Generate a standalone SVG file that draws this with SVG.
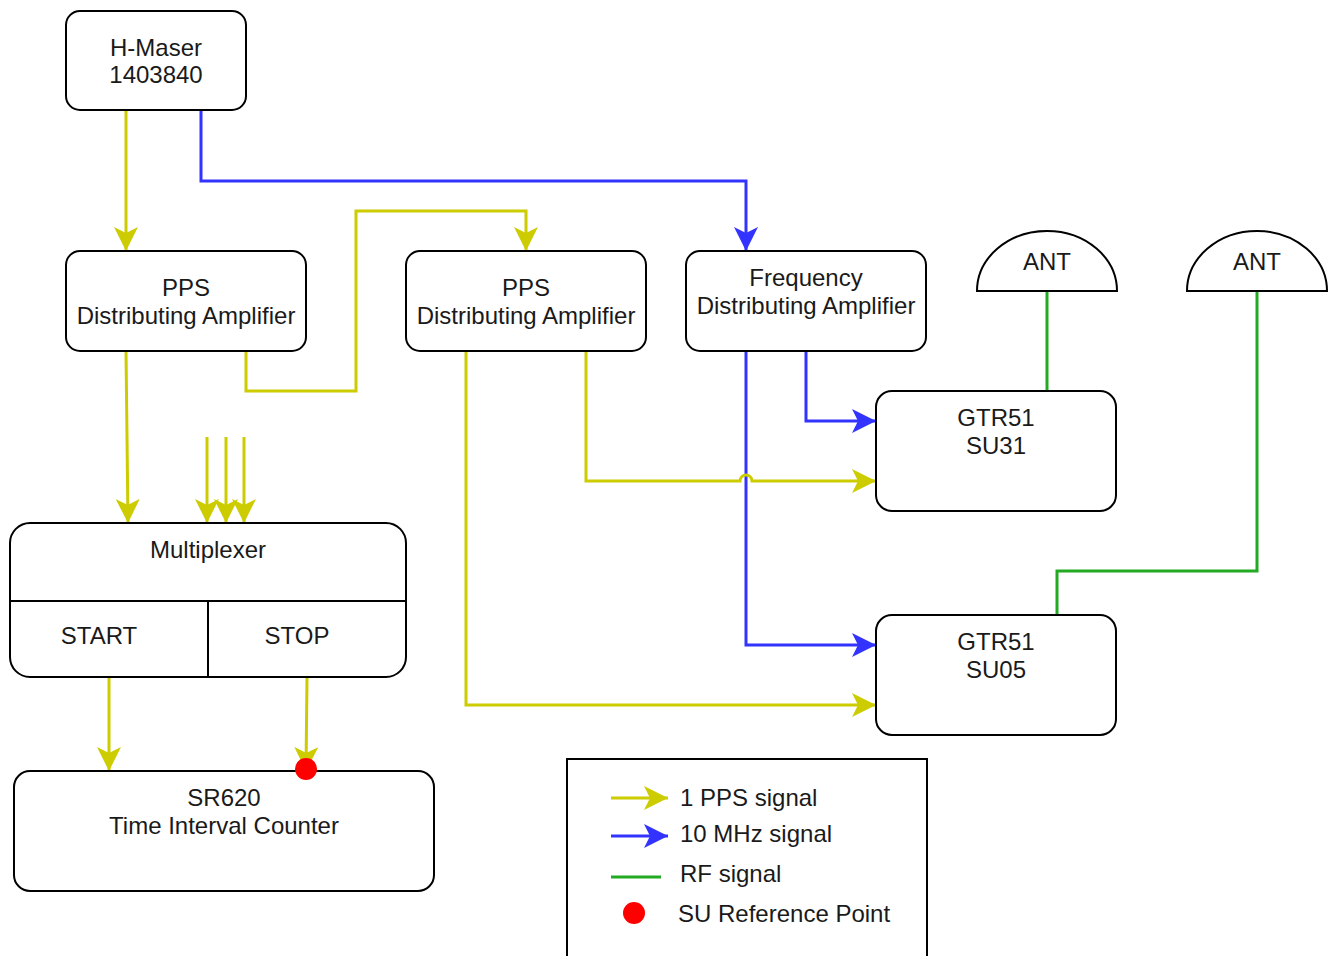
<svg xmlns="http://www.w3.org/2000/svg" width="1336" height="956" viewBox="0 0 1336 956">
<style>
.box{fill:#fff;stroke:#000;stroke-width:2}
.t{font-family:"Liberation Sans",Arial,sans-serif;font-size:24px;fill:#1a1a1a;text-anchor:middle}
.tl{font-family:"Liberation Sans",Arial,sans-serif;font-size:24px;fill:#1a1a1a}
.y{fill:none;stroke:#CCCC00;stroke-width:3}
.b{fill:none;stroke:#3333FF;stroke-width:3}
.g{fill:none;stroke:#22AA22;stroke-width:3}
</style>
<defs>
<marker id="ay" markerUnits="userSpaceOnUse" markerWidth="26" markerHeight="24" refX="24" refY="12" orient="auto" viewBox="0 0 26 24">
<path d="M24,12 L0,0 L6,12 L0,24 Z" fill="#CCCC00"/>
</marker>
<marker id="ab" markerUnits="userSpaceOnUse" markerWidth="26" markerHeight="24" refX="24" refY="12" orient="auto" viewBox="0 0 26 24">
<path d="M24,12 L0,0 L6,12 L0,24 Z" fill="#3333FF"/>
</marker>
</defs>
<rect width="1336" height="956" fill="#fff"/>

<g id="connectors">
<path class="y" d="M126,110 L126,251" marker-end="url(#ay)"/>
<path class="b" d="M201,110 L201,181 L746,181 L746,251" marker-end="url(#ab)"/>
<path class="y" d="M246,351 L246,391 L356,391 L356,211 L526,211 L526,251" marker-end="url(#ay)"/>
<path class="y" d="M126,351 L128,523" marker-end="url(#ay)"/>
<path class="y" d="M207,437 L207,523" marker-end="url(#ay)"/>
<path class="y" d="M226,437 L226,523" marker-end="url(#ay)"/>
<path class="y" d="M244,437 L244,523" marker-end="url(#ay)"/>
<path class="b" d="M806,351 L806,421 L876,421" marker-end="url(#ab)"/>
<path class="b" d="M746,351 L746,645 L876,645" marker-end="url(#ab)"/>
<path class="y" d="M586,351 L586,481 L740,481 A6,6 0 0 1 752,481 L876,481" marker-end="url(#ay)"/>
<path class="y" d="M466,351 L466,705 L876,705" marker-end="url(#ay)"/>
<path class="g" d="M1047,291 L1047,391"/>
<path class="g" d="M1257,291 L1257,571 L1057,571 L1057,615"/>
<path class="y" d="M109,677 L109,771" marker-end="url(#ay)"/>
<path class="y" d="M307,677 L306,771" marker-end="url(#ay)"/>
</g>

<g id="hmaser">
<rect class="box" x="66" y="11" width="180" height="99" rx="14"/>
<text class="t" x="156" y="56">H-Maser</text>
<text class="t" x="156" y="83">1403840</text>
</g>
<g id="pps1">
<rect class="box" x="66" y="251" width="240" height="100" rx="14"/>
<text class="t" x="186" y="296">PPS</text>
<text class="t" x="186" y="324">Distributing Amplifier</text>
</g>
<g id="pps2">
<rect class="box" x="406" y="251" width="240" height="100" rx="14"/>
<text class="t" x="526" y="296">PPS</text>
<text class="t" x="526" y="324">Distributing Amplifier</text>
</g>
<g id="freq">
<rect class="box" x="686" y="251" width="240" height="100" rx="14"/>
<text class="t" x="806" y="286">Frequency</text>
<text class="t" x="806" y="314">Distributing Amplifier</text>
</g>
<g id="ant1">
<path class="box" d="M977,291 A70,60 0 0 1 1117,291 Z"/>
<text class="t" x="1047" y="270">ANT</text>
</g>
<g id="ant2">
<path class="box" d="M1187,291 A70,60 0 0 1 1327,291 Z"/>
<text class="t" x="1257" y="270">ANT</text>
</g>
<g id="su31">
<rect class="box" x="876" y="391" width="240" height="120" rx="16"/>
<text class="t" x="996" y="426">GTR51</text>
<text class="t" x="996" y="454">SU31</text>
</g>
<g id="su05">
<rect class="box" x="876" y="615" width="240" height="120" rx="16"/>
<text class="t" x="996" y="650">GTR51</text>
<text class="t" x="996" y="678">SU05</text>
</g>
<g id="multiplexer">
<rect class="box" x="10" y="523" width="396" height="154" rx="20"/>
<line x1="10" y1="601" x2="406" y2="601" stroke="#000" stroke-width="2"/>
<line x1="208" y1="601" x2="208" y2="677" stroke="#000" stroke-width="2"/>
<text class="t" x="208" y="558">Multiplexer</text>
<text class="t" x="99" y="644">START</text>
<text class="t" x="297" y="644">STOP</text>
</g>
<g id="sr620">
<rect class="box" x="14" y="771" width="420" height="120" rx="16"/>
<text class="t" x="224" y="806">SR620</text>
<text class="t" x="224" y="834">Time Interval Counter</text>
</g>
<g id="refpoint">
<circle cx="306" cy="769" r="11" fill="#FF0000"/>
</g>
<g id="legend">
<rect x="567" y="759" width="360" height="220" fill="#fff" stroke="#000" stroke-width="2"/>
<path class="y" d="M611,798 L668,798" marker-end="url(#ay)"/>
<path class="b" d="M611,836 L668,836" marker-end="url(#ab)"/>
<path class="g" d="M611,877 L661,877"/>
<circle cx="634" cy="913" r="11" fill="#FF0000"/>
<text class="tl" x="680" y="806">1 PPS signal</text>
<text class="tl" x="680" y="842">10 MHz signal</text>
<text class="tl" x="680" y="882">RF signal</text>
<text class="tl" x="678" y="922">SU Reference Point</text>
</g>
</svg>
